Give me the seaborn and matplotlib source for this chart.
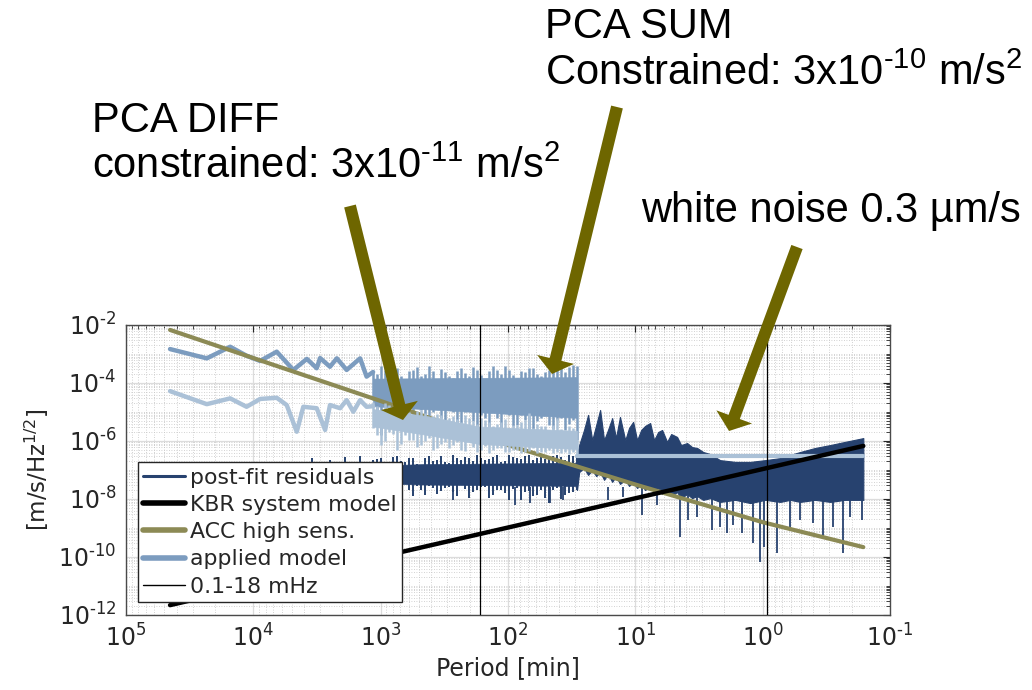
import numpy as np
import pandas as pd
import seaborn as sns
import matplotlib
matplotlib.use("Agg")
import matplotlib.pyplot as plt
import matplotlib.transforms as mtransforms
from matplotlib.patches import FancyArrow
from matplotlib.lines import Line2D
from matplotlib.ticker import LogLocator, FixedLocator, FuncFormatter, NullFormatter

sns.set_theme(style="white")
plt.rcParams['font.family'] = ['DejaVu Sans']
plt.rcParams['mathtext.default'] = 'regular'

# ---------------- data (periods in minutes, values as log10 of m/s/Hz^1/2) ----------------
kbr_period = [45100, 0.162]
kbr_log = [-11.66, -6.17]

acc_period = [45100, 1e4, 1e3, 1e2, 1e1, 1e0, 0.162]
acc_log = [-2.17, -3.14, -4.62, -6.14, -7.50, -8.80, -9.66]

# applied model, PCA SUM part (sparse low-frequency section)
sum_period = [45100, 23200, 15200, 11300, 8850, 6550, 4850, 3800, 3180, 2990,
              2500, 2210, 1850, 1450, 1290, 1147]
sum_log = [-2.83, -3.15, -2.75, -3.06, -3.24, -2.92, -3.55, -3.17, -3.49, -3.14,
           -3.44, -3.15, -3.55, -3.15, -3.78, -3.62]

# applied model, PCA DIFF part (sparse low-frequency section)
diff_period = [45100, 23200, 15200, 11300, 8850, 6550, 5470, 4560, 4050, 3180,
               2730, 2500, 2080, 1850, 1640, 1450, 1290, 1147]
diff_log = [-4.28, -4.73, -4.53, -4.82, -4.55, -4.51, -4.76, -5.68, -4.82, -4.87,
            -5.62, -4.76, -4.87, -4.59, -4.99, -4.59, -4.82, -4.80]

# noisy section (1147 .. 28.7 min): spike extremes read at two interleaved sets of periods
band_period = [1147, 993, 859, 743, 643, 557, 482, 417, 361, 312, 270, 234, 202, 175,
               151, 131, 113, 98, 85, 73, 63.5, 55, 47.5, 41.2, 35.6, 30.8, 28.7]
band_period_mid = [1067, 923, 799, 691, 598, 518, 448, 388, 335, 290, 251, 217, 188, 163,
                   141, 122, 105, 91.2, 78.9, 68.3, 59.1, 51.1, 44.2, 38.3, 33.1]
sum_top = [-3.62, -3.41, -3.83, -3.48, -3.90, -3.55, -3.76, -3.41, -3.90, -3.62, -3.83,
           -3.48, -3.76, -3.55, -3.90, -3.41, -3.69, -3.55, -3.83, -3.62, -3.48, -3.76,
           -3.55, -3.34, -3.62, -3.38, -3.41]
sum_bot = [-4.59, -5.79, -4.86, -5.28, -4.72, -5.21, -4.93, -5.45, -4.79, -5.28, -5.00,
           -5.55, -4.72, -5.69, -5.21, -4.93, -5.97, -5.10, -5.45, -5.28, -5.79, -5.21,
           -5.45, -5.28, -5.62, -5.28, -5.97]
sum_top_mid = [-3.70, -3.55, -3.65, -3.75, -3.60, -3.45, -3.70, -3.60, -3.52, -3.75, -3.60,
               -3.65, -3.45, -3.72, -3.60, -3.55, -3.42, -3.72, -3.58, -3.50, -3.68, -3.62,
               -3.40, -3.50, -3.45]
sum_bot_mid = [-5.00, -4.70, -5.30, -4.90, -5.10, -4.80, -5.60, -5.00, -5.20, -4.90, -5.40,
               -5.00, -5.30, -5.10, -5.60, -5.20, -5.00, -5.50, -5.10, -5.90, -5.30, -5.00,
               -5.60, -5.20, -5.40]
diff_top = [-4.66, -4.93, -4.76, -5.00, -4.86, -5.10, -4.93, -5.21, -5.07, -5.28, -5.14,
            -5.34, -5.21, -5.41, -5.28, -5.48, -5.34, -5.55, -5.45, -5.28, -5.55, -5.48,
            -5.62, -5.21, -5.69, -5.55, -5.97]
diff_bot = [-5.55, -6.14, -5.69, -6.31, -5.79, -5.97, -6.14, -5.90, -6.24, -6.03, -6.14,
            -6.31, -5.97, -6.38, -6.17, -6.31, -6.24, -6.38, -6.31, -6.38, -6.24, -6.38,
            -6.31, -6.38, -6.38, -6.38, -6.45]
diff_top_mid = [-4.80, -4.70, -4.95, -4.85, -5.00, -4.95, -5.05, -5.15, -5.10, -5.20, -5.25,
                -5.10, -5.30, -5.20, -5.35, -5.40, -5.25, -5.45, -5.35, -5.05, -5.40, -5.50,
                -5.45, -5.60, -5.50]
diff_bot_mid = [-5.80, -6.00, -5.75, -6.10, -5.95, -6.20, -6.00, -6.30, -6.10, -6.25, -6.05,
                -6.35, -6.20, -6.30, -6.40, -6.25, -6.38, -6.30, -6.40, -6.35, -6.40, -6.38,
                -6.42, -6.40, -6.45]

# noisy section: dense core
sum_core_period = [1147, 28.7]
sum_core_top = [-3.85, -3.80]
sum_core_bot = [-4.80, -5.20]
diff_core_period = [1147, 420, 170, 28.7]
diff_core_top = [-4.90, -5.15, -5.50, -5.65]
diff_core_bot = [-5.50, -5.80, -6.10, -6.28]

# white noise part of applied model
white_period = [28.7, 0.162]
white_log = [-6.52, -6.52]

# post-fit residuals, low-frequency part: spike extremes
res_period = [45100, 10600, 4300, 3460, 2990, 2500, 2160, 1905, 1679, 1450,
              1147, 993, 859, 743, 643, 557, 482, 417, 361, 312, 270, 234, 202, 175,
              151, 131, 113, 98, 85, 73, 63.5, 55, 47.5, 41.2, 35.6, 30.8, 28.7]
res_top = [-7.00, -7.00, -6.93, -6.59, -6.86, -6.66, -6.90, -6.55, -6.79, -6.52,
           -6.66, -6.59, -6.79, -6.52, -6.72, -6.59, -6.86, -6.52, -6.66, -6.72, -6.48,
           -6.66, -6.59, -6.48, -6.66, -6.55, -6.72, -6.48, -6.59, -6.52, -6.66, -6.45,
           -6.59, -6.48, -6.66, -6.52, -6.48]
res_bot = [-7.76, -7.76, -7.69, -7.62, -7.76, -7.55, -7.69, -7.62, -7.83, -7.55,
           -7.52, -7.86, -7.62, -7.76, -7.48, -7.90, -7.69, -7.55, -7.83, -7.62, -7.76,
           -7.52, -7.97, -7.69, -7.59, -7.86, -7.69, -8.03, -7.62, -7.76, -7.90, -7.69,
           -8.14, -7.62, -7.86, -7.76, -7.69]
res_top_mid = [-6.62, -6.75, -6.55, -6.70, -6.60, -6.80, -6.58, -6.68, -6.52, -6.75, -6.60,
               -6.55, -6.70, -6.58, -6.62, -6.50, -6.68, -6.55, -6.62, -6.50, -6.58, -6.62,
               -6.52, -6.56, -6.50]
res_bot_mid = [-7.65, -7.50, -7.80, -7.60, -7.70, -7.55, -7.85, -7.62, -7.72, -7.58, -7.90,
               -7.65, -7.75, -7.60, -7.95, -7.70, -7.80, -7.65, -8.05, -7.72, -7.85, -7.95,
               -7.70, -8.00, -7.80]
res_core_period = [45100, 3460, 1147, 480, 28.7]
res_core_top = [-7.10, -6.90, -6.85, -6.80, -6.75]
res_core_bot = [-7.50, -7.50, -7.45, -7.50, -7.55]

# post-fit residuals, high-frequency part: upper / lower envelope
resh_period = [28.7, 27.6, 25.3, 23.5, 21.8, 20.3, 18.9, 17.6, 16.4, 15.2, 14.2, 13.2, 12.0,
               11.2, 10.4, 9.68, 9.00, 8.38, 7.65, 7.12, 6.62, 6.16, 5.63, 5.23, 4.70,
               4.37, 3.92, 3.58, 3.27, 2.93, 2.58, 2.16, 1.64, 1.25, 0.956, 0.729,
               0.608, 0.508, 0.387, 0.295, 0.225, 0.162]
resh_top = [-6.48, -6.14, -5.62, -5.10, -5.97, -5.45, -4.93, -5.97, -5.62, -5.21, -5.90,
            -5.17, -5.97, -5.55, -5.34, -5.97, -5.62, -5.48, -5.38, -5.97, -5.69, -5.62,
            -6.03, -5.76, -5.86, -6.14, -6.07, -6.21, -6.24, -6.38, -6.45, -6.66, -6.72,
            -6.72, -6.66, -6.59, -6.48, -6.38, -6.24, -6.14, -6.03, -5.90]
resh_bot = [-7.69, -7.07, -6.93, -7.17, -7.00, -7.21, -7.07, -7.34, -7.14, -7.41, -7.21,
            -7.48, -7.34, -7.55, -7.41, -7.62, -7.48, -7.69, -7.55, -7.76, -7.62, -7.83,
            -7.69, -7.90, -7.76, -7.97, -7.83, -7.97, -7.90, -8.03, -7.97, -8.10, -8.03,
            -8.14, -8.03, -8.10, -8.03, -8.10, -8.03, -8.10, -8.03, -8.03]

# deep downward spikes of the residuals
spike_period = [270, 87.9, 67.0, 46.7, 36.9, 16.4, 12.5, 8.86, 6.75, 4.45, 3.85, 3.27,
                2.50, 2.16, 1.90, 1.71, 1.45, 1.19, 1.05, 0.973, 0.769, 0.608, 0.508,
                0.401, 0.335, 0.279, 0.233, 0.206, 0.165]
spike_log = [-8.03, -8.21, -8.14, -8.14, -8.03, -8.03, -7.93, -8.55, -8.21, -9.31, -8.72,
             -8.62, -9.07, -8.97, -9.17, -8.90, -9.17, -9.52, -10.17, -9.66, -9.86, -8.97,
             -8.72, -8.83, -9.31, -8.97, -9.86, -8.62, -8.72]

band_limits_min = [1e4 / 60, 1 / 0.018 / 60]   # 0.1 mHz and 18 mHz in minutes

xticks = [1e5, 1e4, 1e3, 1e2, 1e1, 1e0, 1e-1]
yticks = [1e-12, 1e-10, 1e-8, 1e-6, 1e-4, 1e-2]

# ---------------- colours ----------------
c_res = '#27426f'
c_sum = '#7c9cbf'
c_diff = '#abc1d7'
c_acc = '#8c8a55'
c_arrow = '#6e6600'
c_txt = '#262626'


def p10(v):
    return np.power(10.0, np.asarray(v, dtype=float))


def pow_label(v, pos):
    e = int(round(np.log10(v)))
    s = ('\u2010%d' % -e) if e < 0 else '%d' % e
    return '$10^{%s}$' % s


# ---------------- figure ----------------
fig = plt.figure(figsize=(10.32, 6.9), dpi=100)
ax = fig.add_axes([126 / 1032, 75 / 690, 764 / 1032, 290 / 690])
ax.set_xscale('log')
ax.set_yscale('log')

# residuals
ax.fill_between(res_core_period, p10(res_core_bot), p10(res_core_top), color=c_res,
                lw=0.5, edgecolor=c_res, zorder=2)
ax.vlines(res_period, p10(res_bot), p10(res_top), color=c_res, lw=1.4, zorder=2)
ax.vlines(band_period_mid, p10(res_bot_mid), p10(res_top_mid), color=c_res, lw=1.4,
          zorder=2)
ax.fill_between(resh_period, p10(resh_bot), p10(resh_top), color=c_res, lw=0.8,
                edgecolor=c_res, zorder=2)
ax.vlines(spike_period, p10(spike_log), p10(-7.6), color=c_res, lw=1.3, zorder=2)

# applied model, SUM part
sns.lineplot(x=sum_period, y=p10(sum_log), ax=ax, color=c_sum, lw=3.2,
             estimator=None, sort=False, zorder=3)
ax.fill_between(sum_core_period, p10(sum_core_bot), p10(sum_core_top), color=c_sum,
                lw=0.5, edgecolor=c_sum, zorder=3)
ax.vlines(band_period, p10(sum_bot), p10(sum_top), color=c_sum, lw=1.8, zorder=3)
ax.vlines(band_period_mid, p10(sum_bot_mid), p10(sum_top_mid), color=c_sum, lw=1.8,
          zorder=3)

# ACC high sensitivity
sns.lineplot(x=acc_period, y=p10(acc_log), ax=ax, color=c_acc, lw=3.0,
             estimator=None, sort=False, zorder=4)

# applied model, DIFF part + white noise
sns.lineplot(x=diff_period, y=p10(diff_log), ax=ax, color=c_diff, lw=3.2,
             estimator=None, sort=False, zorder=5)
ax.fill_between(diff_core_period, p10(diff_core_bot), p10(diff_core_top), color=c_diff,
                lw=0.5, edgecolor=c_diff, zorder=5)
ax.vlines(band_period, p10(diff_bot), p10(diff_top), color=c_diff, lw=1.8, zorder=5)
ax.vlines(band_period_mid, p10(diff_bot_mid), p10(diff_top_mid), color=c_diff, lw=1.8,
          zorder=5)
sns.lineplot(x=white_period, y=p10(white_log), ax=ax, color=c_diff, lw=3.0,
             estimator=None, sort=False, zorder=5)

# KBR system model
sns.lineplot(x=kbr_period, y=p10(kbr_log), ax=ax, color='black', lw=3.2,
             estimator=None, sort=False, zorder=6)

# band limits
for p in band_limits_min:
    ax.axvline(p, color='black', lw=0.9, zorder=7)

# axes styling
ax.set_xlim(1e5, 1e-1)
ax.set_ylim(1e-12, 1e-2)
ax.xaxis.set_major_locator(FixedLocator(xticks))
ax.yaxis.set_major_locator(FixedLocator(yticks))
ax.xaxis.set_major_formatter(FuncFormatter(pow_label))
ax.yaxis.set_major_formatter(FuncFormatter(pow_label))
ax.xaxis.set_minor_locator(LogLocator(base=10, subs=np.arange(2, 10), numticks=100))
ax.yaxis.set_minor_locator(LogLocator(base=10, subs=np.arange(1, 10), numticks=100))
ax.xaxis.set_minor_formatter(NullFormatter())
ax.yaxis.set_minor_formatter(NullFormatter())

ax.grid(True, which='major', color='#dcdcdc', lw=0.9, ls='-', zorder=0)
ax.grid(True, which='minor', color='#c4c4c4', lw=0.6, ls=(0, (1, 2)), zorder=0)
ax.set_axisbelow(True)
ax.tick_params(which='both', direction='in', top=True, right=True, colors=c_txt,
               labelcolor=c_txt)
ax.tick_params(which='major', length=5, width=0.8, labelsize=17, pad=7)
ax.tick_params(which='minor', length=3, width=0.6)
for s in ax.spines.values():
    s.set_color('#4a4a4a')
    s.set_linewidth(1.0)
ax.set_facecolor('white')

ax.set_xlabel('Period [min]', fontsize=17, color=c_txt, labelpad=3)
ax.set_ylabel('[m/s/Hz$^{1/2}$]', fontsize=16.5, color=c_txt, labelpad=5)

handles = [
    Line2D([], [], color=c_res, lw=2.2, label='post-fit residuals'),
    Line2D([], [], color='black', lw=4.0, label='KBR system model'),
    Line2D([], [], color=c_acc, lw=4.0, label='ACC high sens.'),
    Line2D([], [], color=c_sum, lw=4.0, label='applied model'),
    Line2D([], [], color='black', lw=1.0, label='0.1-18 mHz'),
]
leg = ax.legend(handles=handles, loc='lower left', bbox_to_anchor=(12 / 764, 13 / 290),
                borderaxespad=0, fontsize=15.8, frameon=True, fancybox=False,
                framealpha=1, edgecolor='#262626', facecolor='white',
                handlelength=1.9, handletextpad=0.2, labelspacing=0.33,
                borderpad=0.25)
leg.get_frame().set_linewidth(1.0)
leg.set_zorder(10)

# ---------------- annotations (figure pixel coordinates, origin top-left) ----------------
pix = mtransforms.Affine2D().scale(1, -1).translate(0, 690)

arrows = [((350, 206), (403, 420)), ((617, 107), (552, 374)), ((797, 247), (729, 431))]
for (x0, y0), (x1, y1) in arrows:
    fig.add_artist(FancyArrow(x0, y0, x1 - x0, y1 - y0, width=12, head_width=38,
                              head_length=15, length_includes_head=True,
                              transform=pix, color=c_arrow, lw=0, zorder=20))

txt_kw = dict(transform=pix, fontsize=30, family=['Liberation Sans', 'DejaVu Sans'],
              color='black', ha='left', va='baseline', zorder=21)
fig.text(545, 38, 'PCA SUM', **txt_kw)
fig.text(545, 85, 'Constrained: 3x10$^{\u201010}$ m/s$^{2}$', **txt_kw)
fig.text(92, 132, 'PCA DIFF', **txt_kw)
fig.text(92, 178, 'constrained: 3x10$^{\u201011}$ m/s$^{2}$', **txt_kw)
fig.text(641, 222, 'white noise 0.3 µm/s', **txt_kw)

fig.savefig('out.png', dpi=100)
